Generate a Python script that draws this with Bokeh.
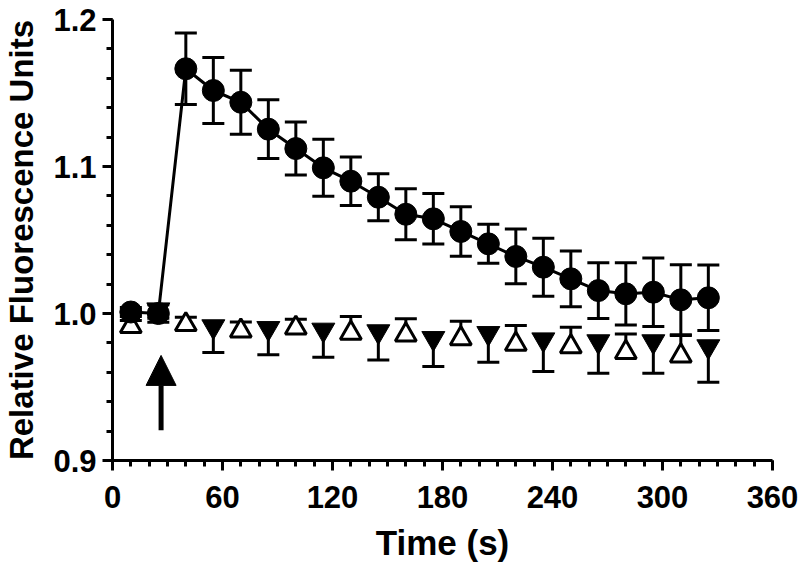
from bokeh.plotting import figure
from bokeh.models import (ColumnDataSource, Whisker, TeeHead, Arrow, NormalHead,
                          FixedTicker, PrintfTickFormatter, Range1d)
from bokeh.embed import file_html
from bokeh.resources import INLINE

# ---- data ----
circle_time = [10, 25, 40, 55, 70, 85, 100, 115, 130, 145, 160, 175, 190, 205,
               220, 235, 250, 265, 280, 295, 310, 325]
circle_mean = [1.001, 1.000, 1.1665, 1.1517, 1.1437, 1.1254, 1.1122, 1.0991, 1.090,
               1.0791, 1.0675, 1.0644, 1.0558, 1.0474, 1.0388, 1.0315, 1.0236,
               1.0156, 1.0134, 1.0145, 1.0093, 1.0107]
circle_sem = [0.003, 0.006, 0.0243, 0.0225, 0.0218, 0.020, 0.018, 0.0194, 0.0165,
              0.016, 0.0173, 0.0172, 0.0168, 0.0133, 0.0186, 0.0197, 0.019, 0.019,
              0.0212, 0.0233, 0.0238, 0.0223]

open_time = [10, 40, 70, 100, 130, 160, 190, 220, 250, 280, 310]
open_mean = [0.9912, 0.9925, 0.9882, 0.9901, 0.9866, 0.9854, 0.9829, 0.9791,
             0.9774, 0.9735, 0.9712]
open_sem = [0.004, 0.005, 0.006, 0.006, 0.0114, 0.011, 0.0119, 0.0127, 0.0133,
            0.0126, 0.0138]

inv_time = [25, 55, 85, 115, 145, 175, 205, 235, 265, 295, 325]
inv_mean = [1.0027, 0.9912, 0.990, 0.9889, 0.9878, 0.9832, 0.9866, 0.9823, 0.981,
            0.981, 0.9776]
inv_sem = [0.006, 0.0177, 0.018, 0.0186, 0.0194, 0.0193, 0.0197, 0.0218, 0.0216,
           0.0216, 0.0243]

arrow_time = 26.5
arrow_from = 0.9205
arrow_to = 0.9715

x_ticks = [0, 60, 120, 180, 240, 300, 360]
x_minor = [0, 10, 20, 30, 40, 50, 60, 70, 80, 90, 100, 110, 120, 130, 140, 150, 160,
           170, 180, 190, 200, 210, 220, 230, 240, 250, 260, 270, 280, 290, 300, 310,
           320, 330, 340, 350, 360]
y_ticks = [0.9, 1.0, 1.1, 1.2]
y_minor = [0.9, 0.92, 0.94, 0.96, 0.98, 1.0, 1.02, 1.04, 1.06, 1.08, 1.1, 1.12, 1.14,
           1.16, 1.18, 1.2]

x_label = "Time (s)"
y_label = "Relative Fluorescence Units"

# ---- sources ----
src_c = ColumnDataSource(dict(
    t=circle_time, m=circle_mean,
    up=[m + s for m, s in zip(circle_mean, circle_sem)],
    lo=[m - s for m, s in zip(circle_mean, circle_sem)]))
src_o = ColumnDataSource(dict(
    t=open_time, m=open_mean,
    up=[m + s for m, s in zip(open_mean, open_sem)],
    lo=list(open_mean)))
src_i = ColumnDataSource(dict(
    t=inv_time, m=inv_mean,
    up=list(inv_mean),
    lo=[m - s for m, s in zip(inv_mean, inv_sem)]))

FONT = "Liberation Sans"

p = figure(frame_width=660, frame_height=441,
           min_border_left=112, min_border_right=28,
           min_border_top=19, min_border_bottom=92,
           x_range=Range1d(0, 360), y_range=Range1d(0.9, 1.2),
           output_backend="svg", toolbar_location=None)
p.background_fill_color = "white"
p.border_fill_color = "white"
p.outline_line_color = None
p.grid.visible = False

# error bars (drawn under the markers)
def tee():
    return TeeHead(size=22, line_width=3, line_color="black")

p.add_layout(Whisker(source=src_c, base="t", upper="up", lower="lo",
                     dimension="height", line_width=3, line_color="black",
                     upper_head=tee(), lower_head=tee(), level="underlay"))
p.add_layout(Whisker(source=src_o, base="t", upper="up", lower="lo",
                     dimension="height", line_width=3, line_color="black",
                     upper_head=tee(), lower_head=None, level="underlay"))
p.add_layout(Whisker(source=src_i, base="t", upper="up", lower="lo",
                     dimension="height", line_width=3, line_color="black",
                     upper_head=None, lower_head=tee(), level="underlay"))

# markers
p.scatter("t", "m", source=src_i, marker="inverted_triangle", size=23,
          fill_color="black", line_color="black", line_width=1)
p.scatter("t", "m", source=src_o, marker="triangle", size=21,
          fill_color="white", line_color="black", line_width=3)
p.line("t", "m", source=src_c, line_width=3, line_color="black")
p.scatter("t", "m", source=src_c, marker="circle", size=22,
          fill_color="black", line_color="black", line_width=1)

# stimulus arrow
p.add_layout(Arrow(end=NormalHead(size=30, fill_color="black", line_color="black",
                                  line_width=1),
                   x_start=arrow_time, y_start=arrow_from,
                   x_end=arrow_time, y_end=arrow_to,
                   line_width=5, line_color="black"))

# axes
p.xaxis.ticker = FixedTicker(ticks=x_ticks, minor_ticks=x_minor)
p.yaxis.ticker = FixedTicker(ticks=y_ticks, minor_ticks=y_minor)
p.yaxis.formatter = PrintfTickFormatter(format="%.1f")
p.xaxis.axis_label = x_label
p.yaxis.axis_label = y_label

for ax in (p.xaxis, p.yaxis):
    ax.axis_line_width = 3
    ax.axis_line_color = "black"
    ax.major_tick_line_width = 3
    ax.minor_tick_line_width = 3
    ax.major_tick_line_color = "black"
    ax.minor_tick_line_color = "black"
    ax.major_tick_in = 0
    ax.major_tick_out = 10
    ax.minor_tick_in = 0
    ax.minor_tick_out = 6
    ax.major_label_text_font = FONT
    ax.major_label_text_font_style = "bold"
    ax.major_label_text_font_size = "31px"
    ax.major_label_text_color = "black"
    ax.axis_label_text_font = FONT
    ax.axis_label_text_font_style = "bold"
    ax.axis_label_text_color = "black"

p.xaxis.major_label_standoff = 15
p.yaxis.major_label_standoff = 6
p.xaxis.axis_label_text_font_size = "35px"
p.yaxis.axis_label_text_font_size = "33px"
p.xaxis.axis_label_standoff = 12
p.yaxis.axis_label_standoff = 10

open("out.html", "w").write(file_html(p, INLINE))
